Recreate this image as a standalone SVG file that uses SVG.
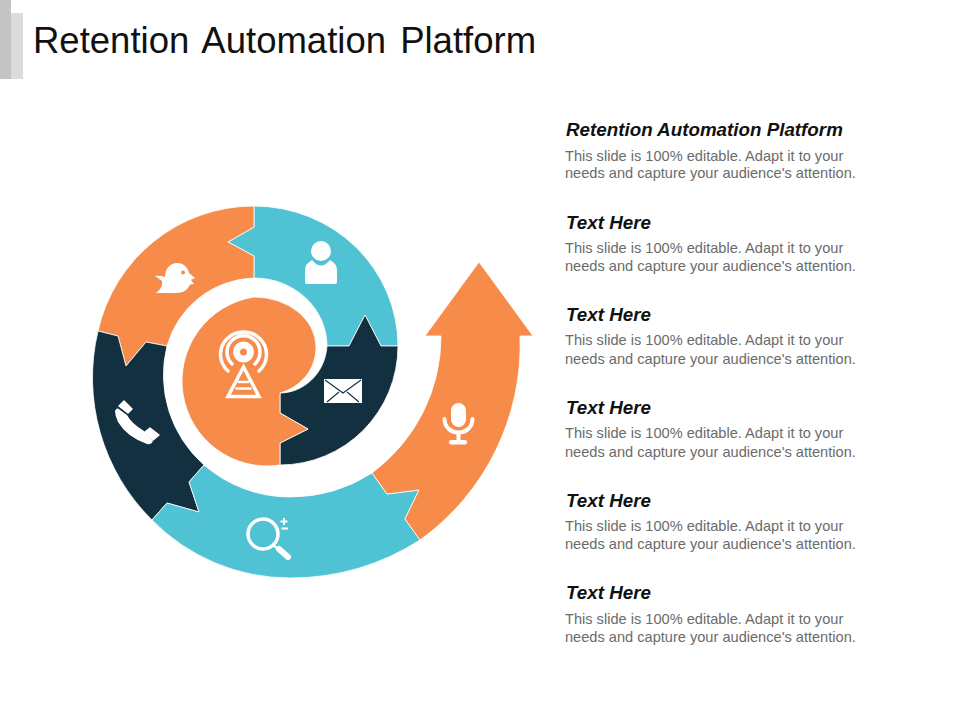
<svg xmlns="http://www.w3.org/2000/svg" width="960" height="720" viewBox="0 0 960 720">
<style>
.t{font-family:"Liberation Sans",Arial,sans-serif}
.h{font-size:18.800px;font-weight:bold;font-style:italic;fill:#111}
.b{font-size:14.600px;fill:#6b6b6b}
.seg{stroke:#fff;stroke-width:.8;stroke-linejoin:miter}
.o{fill:#F68B4A}.c{fill:#4FC3D4}.d{fill:#123040}
.ic{fill:#fff}
.il{fill:none;stroke:#fff;stroke-linecap:round}
</style>
<rect width="960" height="720" fill="#fff"/>
<g id="title-bar">
<rect x="0" y="0" width="11" height="79" fill="#c4c4c4"/>
<rect x="11" y="13" width="12" height="66" fill="#dcdcdc"/>
<text class="t" x="33" y="53" font-size="36.500" word-spacing="4" fill="#111">Retention Automation Platform</text>
</g>
<g id="seg-teal-top"><path class="seg c" d="M254 206A144 140 0 0 1 398 346H381L365 315L349 346H327A73 68 0 0 0 254 278V256L228 242L254 227Z"/></g>
<g id="seg-orange-top"><path class="seg o" d="M254 206A160 160 0 0 0 98 331L118 336L126 366L146 342L167 346A93 93 0 0 1 254 278V256L228 242L254 227Z"/></g>
<g id="seg-dark-left"><path class="seg d" d="M98 331A200 200 0 0 0 152 520L167 503L199 512L189 482L204 465A120 120 0 0 1 167 346L146 342L126 366L118 336Z"/></g>
<g id="seg-teal-bottom"><path class="seg c" d="M152 520A193 193 0 0 0 290 578A241 241 0 0 0 420 540L405 519L419 490L387 494L372 473A152 152 0 0 1 290 497A131.500 131.500 0 0 1 204 465L189 482L199 512L167 503Z"/></g>
<g id="seg-arrow"><path class="seg o" d="M372 473A170 170 0 0 0 441 336H425L479 262L533 336H520A240 240 0 0 1 420 540L405 519L419 490L387 494Z"/></g>
<g id="seg-dark-center"><path class="seg d" d="M398 346A118 119 0 0 1 280 465V443L308 429L280 413V393C302 393 325 375 327 346H349L365 315L381 346Z"/></g>
<g id="seg-orange-center"><path class="seg o" d="M280 393C298 388 316 372 316 347A62 50 0 0 0 254 297A85 85 0 0 0 280 465V443L308 429L280 413Z"/></g>
<g id="icon-user" class="ic"><circle cx="321" cy="251" r="10"/><path d="M305 282V270Q305 264 312 260Q321 271 330 260Q337 264 337 270V282Q337 284 335 284H307Q305 284 305 282Z"/></g>
<g id="icon-mail"><rect x="324" y="379" width="38" height="24" fill="#fff"/><path d="M325 380L343 393L361 380M327 402L339 392M359 402L347 392" fill="none" stroke="#123040" stroke-width="1.100"/></g>
<g id="icon-mic"><rect x="451" y="403" width="15" height="24" rx="7.500" class="ic"/><path class="il" stroke-width="4" d="M444.500 419C445 437 472 437 472.500 419"/><path class="il" stroke-width="4" d="M458.500 434V441"/><rect x="449" y="440" width="18" height="4.500" rx="2" class="ic"/></g>
<g id="icon-bird"><path class="ic" d="M155 276Q160 275 165 277C165 268 171 263 177 263C184 263 188 268 189 273L195 278L191 280L194 284L190 284.500C188 289 184 293 177 293L156 293C160 290 163 286 162 281Z"/><circle cx="183" cy="272.500" r="2" class="o"/></g>
<g id="icon-phone" class="ic"><path d="M124 401L132 409L128 413L119 406Z" stroke="#fff" stroke-width="1.500" stroke-linejoin="round"/><path d="M150 428L159 435L153 440L145 432Z" stroke="#fff" stroke-width="1.500" stroke-linejoin="round"/><path d="M115 411Q116 408 118 408.500L127 415Q131 423 144 431L153 441Q151 445 147 444Q127 437 118 422Q115 416 115 411Z"/></g>
<g id="icon-search"><circle cx="263" cy="534" r="15" fill="none" stroke="#fff" stroke-width="3.500"/><path class="il" stroke-width="2.500" d="M273 545L278 549"/><path class="il" stroke-width="6" d="M279 549L288 557"/><path d="M284 518V525M280.500 521.500H287.500M281.500 528.500H288" fill="none" stroke="#fff" stroke-width="2"/></g>
<g id="icon-tower"><circle cx="243.500" cy="352" r="7" fill="none" stroke="#fff" stroke-width="7"/><path class="il" stroke-width="3.500" stroke-linecap="butt" d="M232 364A16.500 16.500 0 1 1 255 364M228 371A23 22.500 0 1 1 259 371"/><path d="M243.500 367L228 396.500H259Z" fill="none" stroke="#fff" stroke-width="3.500"/><path d="M238 382H249M235.500 388.500H251.500" fill="none" stroke="#fff" stroke-width="2.500"/></g>
<g id="text-1" class="t"><text class="h" x="566" y="136">Retention Automation Platform</text><text class="b" x="565" y="161">This slide is 100% editable. Adapt it to your</text><text class="b" x="565" y="178">needs and capture your audience's attention.</text></g>
<g id="text-2" class="t"><text class="h" x="566" y="229">Text Here</text><text class="b" x="565" y="253">This slide is 100% editable. Adapt it to your</text><text class="b" x="565" y="271">needs and capture your audience's attention.</text></g>
<g id="text-3" class="t"><text class="h" x="566" y="321">Text Here</text><text class="b" x="565" y="345">This slide is 100% editable. Adapt it to your</text><text class="b" x="565" y="364">needs and capture your audience's attention.</text></g>
<g id="text-4" class="t"><text class="h" x="566" y="414">Text Here</text><text class="b" x="565" y="438">This slide is 100% editable. Adapt it to your</text><text class="b" x="565" y="457">needs and capture your audience's attention.</text></g>
<g id="text-5" class="t"><text class="h" x="566" y="507">Text Here</text><text class="b" x="565" y="531">This slide is 100% editable. Adapt it to your</text><text class="b" x="565" y="549">needs and capture your audience's attention.</text></g>
<g id="text-6" class="t"><text class="h" x="566" y="599">Text Here</text><text class="b" x="565" y="624">This slide is 100% editable. Adapt it to your</text><text class="b" x="565" y="642">needs and capture your audience's attention.</text></g>
</svg>
